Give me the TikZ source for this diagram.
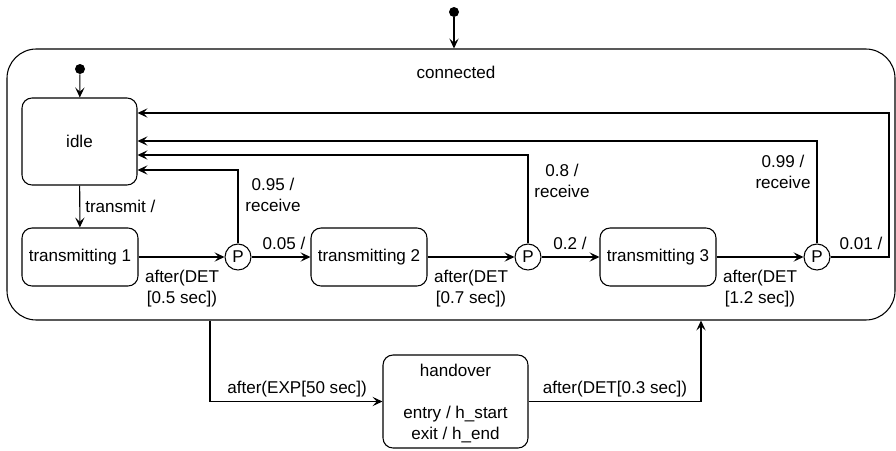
\documentclass[tikz,border=0pt]{standalone}
\usepackage{fontspec}
\setmainfont{Liberation Sans}
\usetikzlibrary{arrows.meta}
\begin{document}
\begin{tikzpicture}[x=0.75pt,y=-0.75pt,
  every node/.style={font=\fontsize{12.8}{15.75}\selectfont, inner sep=0pt},
  conn/.style={line width=0.8pt, draw=black, -{Stealth[length=7.5pt,width=7pt,inset=3.2pt]}},
  statebox/.style={draw, line width=0.8pt, rounded corners=7.5pt, align=center},
  pseudo/.style={draw, circle, line width=0.8pt, minimum size=19.5pt},
  initdot/.style={circle, fill=black, minimum size=7.5pt},
  lbl/.style={align=center}]
\useasboundingbox (0,0) rectangle (896,450);

% composite state
\node[draw, line width=0.8pt, rounded corners=22pt, minimum width=666pt, minimum height=203.25pt] (conn) at (451,184.5) {};
\node (connlbl) at (456,72) {connected};

% outer initial state
\node[initdot] (init0) at (454,12) {};
\draw[conn] (init0) -- (init0 |- conn.north);

% inner states
\node[initdot] (init1) at (80,69) {};
\node[statebox, minimum width=86.25pt, minimum height=65.25pt] (idle) at (79.5,141.5) {idle};
\node[statebox, minimum width=87pt, minimum height=43.5pt] (t1) at (80,257) {transmitting 1};
\node[statebox, minimum width=87pt, minimum height=43.5pt] (t2) at (369,257) {transmitting 2};
\node[statebox, minimum width=87pt, minimum height=43.5pt] (t3) at (658,257) {transmitting 3};
\node[pseudo] (p1) at (238,257) {P};
\node[pseudo] (p2) at (528,257) {P};
\node[pseudo] (p3) at (817,257) {P};

\node[statebox, minimum width=108.75pt, minimum height=69.75pt] (hand) at (455.5,401.5) {};
\node[lbl] (handtxt) at (455.5,404) {handover\\\mbox{}\\entry / h\_start\\exit / h\_end};

% bend points
\coordinate (y113) at (0,113);
\coordinate (y141) at (0,141);
\coordinate (y155) at (0,155);
\coordinate (y170) at (0,170);
\coordinate (rx) at (889,257);
\coordinate (x210) at (210,0);
\coordinate (x701) at (701,0);

% transitions inside the composite state
\draw[conn] (init1) -- (idle);
\draw[conn] (idle) -- (t1);
\draw[conn] (t1) -- (p1);
\draw[conn] (p1) -- (t2);
\draw[conn] (t2) -- (p2);
\draw[conn] (p2) -- (t3);
\draw[conn] (t3) -- (p3);
\draw[conn] (p1) |- (idle.east |- y170);
\draw[conn] (p2) |- (idle.east |- y155);
\draw[conn] (p3) |- (idle.east |- y141);
\draw[conn] (p3) -- (rx) |- (idle.east |- y113);

% handover transitions
\draw[conn] (x210 |- conn.south) |- (hand.west);
\draw[conn] (hand.east) -| (x701 |- conn.south);

% labels
\node[anchor=west] (ltr) at (85,206) {transmit /};
\node[lbl] (l095) at (273,195) {0.95 /\\receive};
\node[lbl] (l08) at (562,181) {0.8 /\\receive};
\node[lbl] (l099) at (783,172) {0.99 /\\receive};
\node (l005) at (284,243) {0.05 /};
\node (l02) at (570,243) {0.2 /};
\node (l001) at (861,243) {0.01 /};
\node[lbl] (la1) at (182,289) {after(DET\\{}[0.5 sec])};
\node[lbl] (la2) at (471,289) {after(DET\\{}[0.7 sec])};
\node[lbl] (la3) at (760,289) {after(DET\\{}[1.2 sec])};
\node (lexp) at (297,389) {after(EXP[50 sec])};
\node (ldet) at (615,389) {after(DET[0.3 sec])};
\end{tikzpicture}
\end{document}
